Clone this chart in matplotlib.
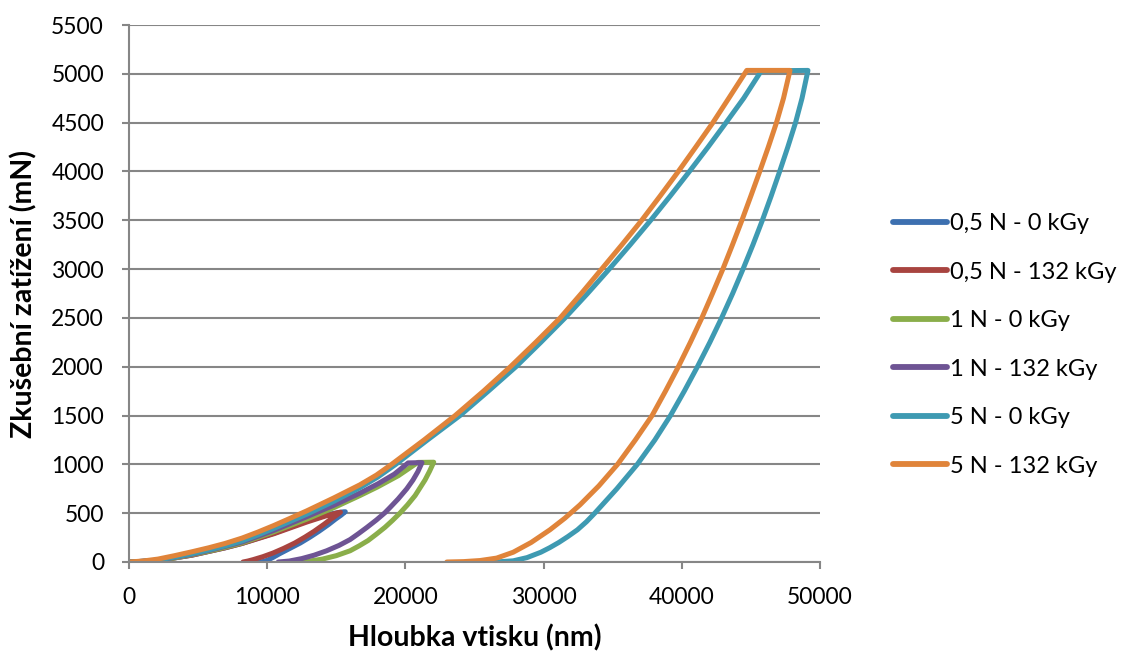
import matplotlib
matplotlib.use("Agg")
import matplotlib.pyplot as plt

# Indentation curves: depth (nm) vs. test load (mN)
series_labels = ["0,5 N - 0 kGy", "0,5 N - 132 kGy", "1 N - 0 kGy",
                 "1 N - 132 kGy", "5 N - 0 kGy", "5 N - 132 kGy"]
series_colors = ["#3D70B0", "#A84440", "#8AAE4A", "#6E5494", "#3E9AB2", "#E0843A"]

depth_05n_0 = [0, 2100, 4560, 6950, 8180, 10500, 12880, 14500, 15400, 15650,
               15350, 14950, 14450, 13750, 13100, 12400, 11650, 10900, 10400,
               10000, 9700, 9400]
load_05n_0 = [0, 15, 70, 145, 190, 295, 420, 490, 512, 515,
              480, 440, 385, 315, 255, 195, 140, 85, 45,
              18, 5, 0]

depth_05n_132 = [0, 2100, 4560, 6950, 8180, 10500, 12880, 14200, 15100, 15300,
                 15000, 14600, 14100, 13400, 12730, 12000, 11200, 10420, 9700,
                 9000, 8600, 8250]
load_05n_132 = [0, 15, 70, 145, 190, 290, 410, 470, 505, 510,
                478, 438, 385, 315, 255, 195, 140, 92, 55,
                25, 10, 0]

depth_1n_0 = [0, 1000, 2100, 3300, 4560, 5750, 6950, 8180, 9300, 10500, 11700,
              12880, 14800, 16700, 18000, 19500, 20900, 22050,
              21750, 21420, 20700, 20150, 19600, 19060, 18520, 17900, 17300,
              16650, 16000, 15000, 14000, 13000, 12000]
load_1n_0 = [0, 5, 15, 42, 75, 110, 150, 195, 250, 310, 375,
             440, 555, 680, 770, 885, 1020, 1022,
             930, 840, 680, 585, 500, 425, 355, 285, 220,
             165, 115, 65, 30, 8, 0]

depth_1n_132 = [0, 1000, 2100, 3300, 4560, 5750, 6950, 8180, 9300, 10500, 11700,
                12880, 14800, 16700, 18000, 19200, 20200, 21200,
                20900, 20550, 20100, 19470, 18900, 18520, 17900, 17220, 16600,
                16000, 15200, 14300, 13400, 12500, 11600, 10800]
load_1n_132 = [0, 6, 18, 47, 80, 118, 160, 205, 262, 325, 395,
               465, 580, 705, 800, 900, 1015, 1018,
               925, 840, 750, 645, 560, 505, 430, 355, 290,
               230, 170, 115, 70, 35, 10, 0]

depth_5n_0 = [0, 1000, 2100, 3300, 4560, 5750, 6950, 8180, 9300, 10500, 11700,
              12880, 14800, 16700, 18000, 19300, 21600, 23950, 26000, 28000,
              29800, 31550, 33180, 34750, 36270, 37750, 39170, 40550, 41900,
              43200, 44480, 45750, 49130,
              48700, 48230, 47670, 47080, 46470, 45830, 45150, 44430, 43680,
              42880, 42030, 41130, 40180, 39180, 38050, 36780, 35300, 34500,
              33700, 33100, 32450, 31750, 31100, 30450, 29800, 28800, 27800,
              26700, 25540]
load_5n_0 = [0, 7, 20, 50, 85, 123, 165, 215, 275, 345, 418,
             490, 620, 760, 870, 1000, 1250, 1500, 1750, 2000,
             2250, 2500, 2750, 3000, 3250, 3500, 3750, 4000, 4250,
             4500, 4750, 5030, 5035,
             4750, 4500, 4250, 4000, 3750, 3500, 3250, 3000, 2750,
             2500, 2250, 2000, 1750, 1500, 1250, 1000, 750, 625,
             500, 412, 330, 260, 200, 147, 100, 45, 12,
             2, 0]

depth_5n_132 = [0, 1000, 2100, 3300, 4560, 5750, 6950, 8180, 9300, 10500, 11700,
                12880, 14800, 16700, 17900, 19000, 21350, 23600, 25650, 27600,
                29430, 31200, 32730, 34200, 35670, 37100, 38440, 39750, 41010,
                42250, 43400, 44700, 47830,
                47360, 46850, 46260, 45640, 45000, 44350, 43670, 42970, 42220,
                41450, 40620, 39750, 38820, 37850, 36640, 35350, 34000, 32630,
                31550, 30460, 29100, 27800, 26600, 25400, 24200, 23000]
load_5n_132 = [0, 10, 30, 65, 105, 145, 190, 245, 305, 375, 450,
               525, 655, 790, 890, 1000, 1250, 1500, 1750, 2000,
               2250, 2500, 2750, 3000, 3250, 3500, 3750, 4000, 4250,
               4500, 4750, 5035, 5035,
               4750, 4500, 4250, 4000, 3750, 3500, 3250, 3000, 2750,
               2500, 2250, 2000, 1750, 1500, 1250, 1000, 780, 585,
               450, 330, 200, 100, 40, 15, 4, 0]

depths = [depth_05n_0, depth_05n_132, depth_1n_0, depth_1n_132, depth_5n_0, depth_5n_132]
loads = [load_05n_0, load_05n_132, load_1n_0, load_1n_132, load_5n_0, load_5n_132]

x_ticks = list(range(0, 50001, 10000))
y_ticks = list(range(0, 5501, 500))

FONT = "Lato"
GRID = "#868686"

fig = plt.figure(figsize=(11.25, 6.55), dpi=100)
ax = fig.add_axes([129 / 1125, 1 - 562 / 655, (820 - 129) / 1125, (562 - 25) / 655])

for d, p, lab, col in zip(depths, loads, series_labels, series_colors):
    ax.plot(d, p, color=col, lw=3.6, label=lab,
            solid_capstyle="round", solid_joinstyle="round")

ax.set_xlim(0, 50000)
ax.set_ylim(0, 5500)
ax.set_xticks(x_ticks)
ax.set_yticks(y_ticks)
ax.set_xticklabels([str(v) for v in x_ticks], fontfamily=FONT, fontsize=16.5)
ax.set_yticklabels([str(v) for v in y_ticks], fontfamily=FONT, fontsize=16.5)

ax.yaxis.grid(True, color=GRID, lw=1.5)
ax.set_axisbelow(True)
for s in ["top", "right"]:
    ax.spines[s].set_visible(False)
for s in ["left", "bottom"]:
    ax.spines[s].set_color(GRID)
    ax.spines[s].set_linewidth(1.5)
ax.tick_params(axis="both", color=GRID, width=1.5, length=5, labelcolor="#000000")
ax.tick_params(axis="x", pad=13)
ax.tick_params(axis="y", pad=13)

ax.set_xlabel("Hloubka vtisku (nm)", fontfamily=FONT, fontsize=20.5,
              fontweight="bold", labelpad=12)
ax.set_ylabel("Zkušební zatížení (mN)", fontfamily=FONT, fontsize=20.5,
              fontweight="bold", labelpad=10)

leg = fig.legend(loc="upper left", bbox_to_anchor=(893 / 1125, 1 - 213 / 655),
                 frameon=False, borderpad=0, borderaxespad=0,
                 handlelength=2.3, handletextpad=0.1, labelspacing=1.165,
                 prop={"family": FONT, "size": 17})
for h in leg.get_lines():
    h.set_linewidth(4.2)

fig.savefig("out.png", dpi=100)
